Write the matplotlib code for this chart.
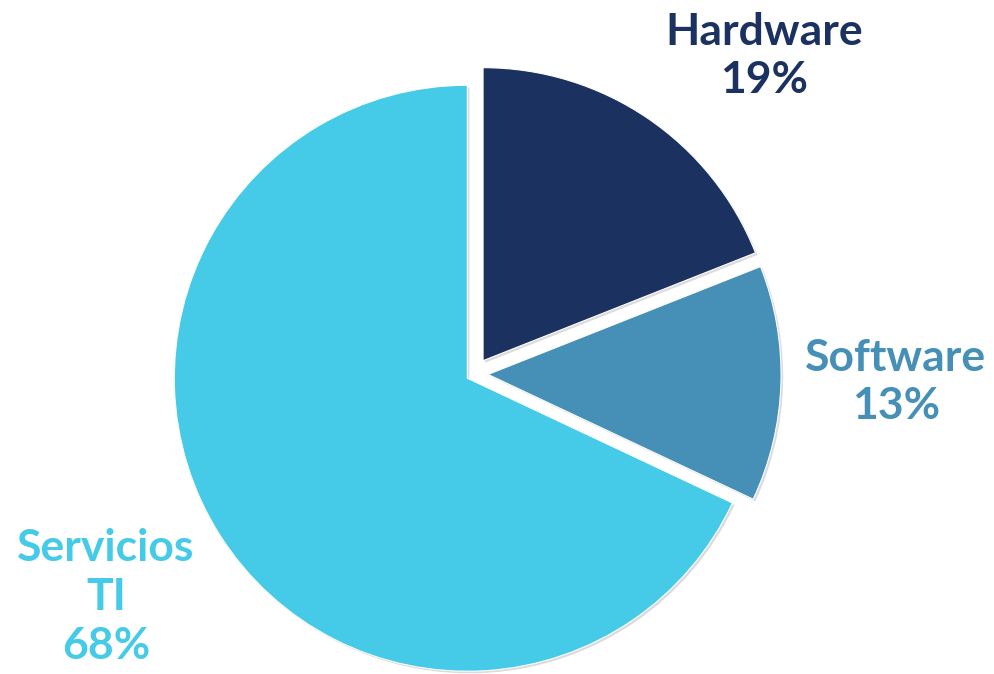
import matplotlib
matplotlib.use("Agg")
import matplotlib.pyplot as plt
import matplotlib.patheffects as pe

categories = ["Hardware", "Software", "Servicios\nTI"]
values = [19, 13, 68]
colors = ["#1B3260", "#4690B8", "#45CAE7"]
explode = [0.055, 0.048, 0.027]

W, H = 995, 674
fig = plt.figure(figsize=(W / 100, H / 100), dpi=100)
ax = fig.add_axes([0, 0, 1, 1])

cx, cy, r = 474, 374, 293
wedges, _ = ax.pie(values, colors=colors, explode=explode, startangle=90,
                   counterclock=False, radius=1.0,
                   wedgeprops=dict(edgecolor="white", linewidth=0.8))
for w in wedges:
    w.set_path_effects([pe.SimplePatchShadow(offset=(1.5, -1.5), shadow_rgbFace="#999999", alpha=0.35),
                        pe.Normal()])

ax.set_xlim(-cx / r, (W - cx) / r)
ax.set_ylim(-(H - cy) / r, cy / r)
ax.set_aspect("equal")
ax.axis("off")

label_pos = [(764, 56), (896, 382), (106, 597)]
for cat, val, col, (px, py) in zip(categories, values, colors, label_pos):
    ax.text(px / W, 1 - py / H, f"{cat}\n{val}%", transform=ax.transAxes,
            ha="center", va="center", color=col, fontsize=32,
            fontweight="bold", family=["Lato", "DejaVu Sans"], linespacing=1.27)

fig.savefig("out.png", dpi=100)
